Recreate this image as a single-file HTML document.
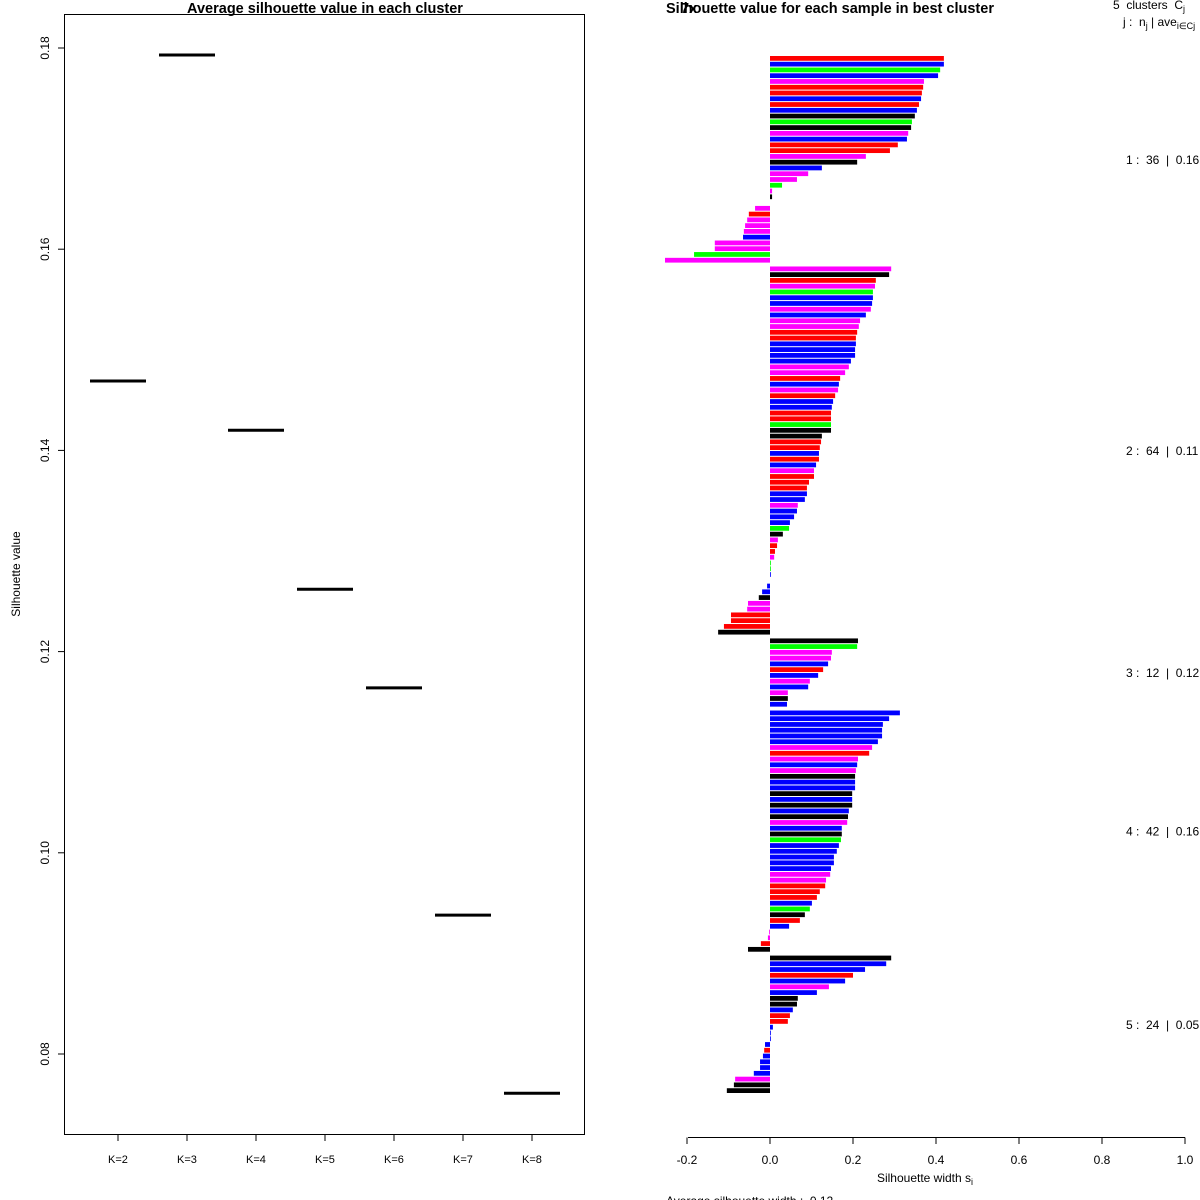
<!DOCTYPE html>
<html><head><meta charset="utf-8"><style>
html,body{margin:0;padding:0;background:#fff;}
svg{display:block;font-family:"Liberation Sans",sans-serif;}
text{white-space:pre;}
</style></head><body>
<svg id="chart" width="1200" height="1200" viewBox="0 0 1200 1200" xmlns="http://www.w3.org/2000/svg">
<g id="left">
<rect x="64.5" y="14.5" width="520" height="1120" fill="none" stroke="#000" stroke-width="1"/>
<text x="325" y="13" text-anchor="middle" font-size="14.5" font-weight="bold">Average silhouette value in each cluster</text>
<text transform="translate(20,574) rotate(-90)" text-anchor="middle" font-size="12">Silhouette value</text>
</g>
<g id="right">
<text x="666" y="13" font-size="14.5" font-weight="bold">Silhouette value for each sample in best cluster</text>
<text x="681" y="13" font-size="14.5" font-weight="bold">7x</text>
<text x="1113" y="9" font-size="12">5  clusters  C<tspan font-size="9" dy="3">j</tspan></text>
<text x="1123" y="26" font-size="12">j :  n<tspan font-size="9" dy="3">j</tspan><tspan dy="-3"> | ave</tspan><tspan font-size="9" dy="3">i∈Cj</tspan><tspan dy="-3">  s</tspan><tspan font-size="9" dy="3">i</tspan></text>
<line x1="688" y1="1137.5" x2="1185" y2="1137.5" stroke="#000"/>
<text x="925" y="1182" text-anchor="middle" font-size="12">Silhouette width s<tspan font-size="9" dy="3">i</tspan></text>
<text x="666" y="1205" font-size="12">Average silhouette width :  0.12</text>
</g>
</svg>
<script>
// ---- left chart data ----
const kLabels = ["K=2","K=3","K=4","K=5","K=6","K=7","K=8"];
const avgSil = [0.1469,0.1793,0.1420,0.1262,0.1164,0.0938,0.0761];
const yTicks = [0.08,0.10,0.12,0.14,0.16,0.18];
const yTickLabels = ["0.08","0.10","0.12","0.14","0.16","0.18"];
// ---- right chart data ----
const clusterSizes = [36,64,12,42,24];
const clusterLabels = ["1 :  36  |  0.16","2 :  64  |  0.11","3 :  12  |  0.12","4 :  42  |  0.16","5 :  24  |  0.05"];
const silValues = [
0.419,0.419,0.410,0.405,0.371,0.369,0.366,0.364,0.359,0.354,0.349,0.342,0.340,0.333,0.330,0.308,0.289,0.231,0.210,0.125,0.092,0.065,0.029,0.005,0.005,0.0,-0.036,-0.051,-0.055,-0.060,-0.063,-0.065,-0.133,-0.133,-0.183,-0.253,
0.292,0.287,0.255,0.253,0.248,0.248,0.246,0.243,0.231,0.217,0.214,0.210,0.207,0.207,0.205,0.205,0.195,0.190,0.181,0.169,0.166,0.164,0.157,0.152,0.149,0.147,0.147,0.147,0.147,0.125,0.123,0.120,0.118,0.118,0.111,0.106,0.106,0.094,0.089,0.089,0.084,0.067,0.065,0.058,0.048,0.046,0.031,0.019,0.017,0.012,0.010,0.002,0.002,0.002,0.0,-0.007,-0.019,-0.027,-0.053,-0.055,-0.094,-0.094,-0.111,-0.125,
0.212,0.210,0.149,0.147,0.140,0.128,0.116,0.096,0.092,0.043,0.043,0.041,
0.313,0.287,0.272,0.270,0.270,0.260,0.246,0.239,0.212,0.210,0.207,0.205,0.205,0.205,0.198,0.198,0.198,0.190,0.188,0.186,0.173,0.173,0.171,0.166,0.161,0.154,0.154,0.147,0.145,0.135,0.133,0.120,0.113,0.101,0.096,0.084,0.072,0.046,-0.002,-0.005,-0.022,-0.053,
0.292,0.280,0.229,0.200,0.181,0.142,0.113,0.067,0.065,0.055,0.048,0.043,0.007,0.002,0.002,-0.012,-0.014,-0.017,-0.024,-0.024,-0.039,-0.084,-0.087,-0.104
];
const barColors = "RBGBMRRBRBKGKMBRRMKBMMGMKKMRMMMBMMGM".concat(
"MKRMGBBMBMMRRBBBBMMRBMRBBRRGKKRRBRBMRRRBBMBBBGKMRRMGGBBBBKMMRRRK",
"KGMMBRBMBMKB",
"BBBBBBMRMBMKBBKBKBKMBKGBBBBBMMRRRBGKRBMMRK",
"KBBRBMBKKBRRBBBBRBBBBMKK");
const xTicks = [-0.2,0,0.2,0.4,0.6,0.8,1.0];
const xTickLabels = ["-0.2","0.0","0.2","0.4","0.6","0.8","1.0"];

const NS = "http://www.w3.org/2000/svg";
const left = document.getElementById("left");
const right = document.getElementById("right");
function mk(tag, attrs, parent){const e=document.createElementNS(NS,tag);for(const k in attrs)e.setAttribute(k,attrs[k]);parent.appendChild(e);return e;}

const yScale = v => 1054 - (v-0.08)/0.10*1006;
const xCat = i => 118 + i*69;
yTicks.forEach((t,i)=>{
  const y=yScale(t);
  const tk=mk("line",{x1:58,x2:64.5,y1:y,y2:y,stroke:"#000"},left);
  
  
  const lb=mk("text",{transform:`translate(49,${y}) rotate(-90)`,"text-anchor":"middle","font-size":12},left);
  lb.textContent=yTickLabels[i];
  
  
});
kLabels.forEach((k,i)=>{
  const x=xCat(i);
  const tk=mk("line",{x1:x,x2:x,y1:1134.5,y2:1141,stroke:"#000"},left);
  
  
  const lb=mk("text",{x:x,y:1163,"text-anchor":"middle","font-size":11},left);
  lb.textContent=k;
  
  
  const seg=mk("line",{x1:x-28,x2:x+28,y1:yScale(avgSil[i]),y2:yScale(avgSil[i]),stroke:"#000","stroke-width":3},left);
  
  
});

const sx = v => 770 + v*415;
xTicks.forEach((t,i)=>{
  const x=sx(t);
  const tk=mk("line",{x1:x,x2:x,y1:1137.5,y2:1144,stroke:"#000"},right);
  
  
  const lb=mk("text",{x:x,y:1164,"text-anchor":"middle","font-size":12},right);
  lb.textContent=xTickLabels[i];
  
  
});
const colMap={R:"#ff0000",B:"#0000ff",G:"#00ff00",M:"#ff00ff",K:"#000000"};
const unit=(1094-56)/180;
let idx=0;
clusterSizes.forEach((n,c)=>{
  const startY=56+(idx+0.5*c)*unit;
  for(let j=0;j<n;j++){
    const v=silValues[idx];
    const y=56+(idx+0.5*c)*unit;
    const x0=Math.min(sx(0),sx(v)), w=Math.abs(sx(v)-sx(0));
    const b=mk("rect",{x:x0,y:y,width:Math.max(w,0),height:unit-1,fill:colMap[barColors[idx]]||"#000"},right);
    
    
    idx++;
  }
  const midY=startY+n*unit/2+4;
  const lb=mk("text",{x:1126,y:midY,"font-size":12},right);
  lb.textContent=clusterLabels[c];
  
  
});
</script>
</body></html>
